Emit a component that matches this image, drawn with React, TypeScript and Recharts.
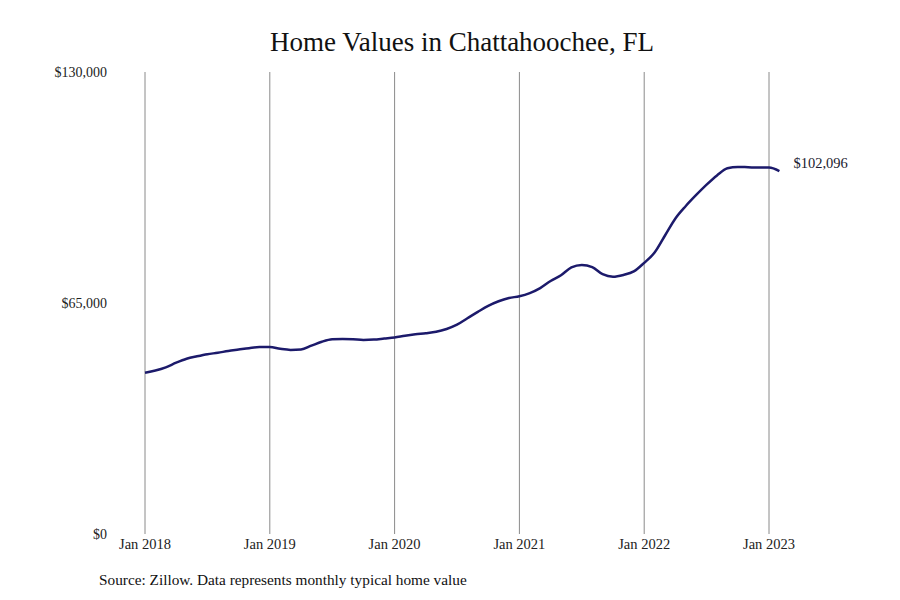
import React from "react";
import { LineChart, Line, XAxis, YAxis, ReferenceLine } from "recharts";

const months: string[] = [];
const years = [2018, 2019, 2020, 2021, 2022, 2023];
const monthNames = ["Jan", "Feb", "Mar", "Apr", "May", "Jun", "Jul", "Aug", "Sep", "Oct", "Nov", "Dec"];
years.forEach((y) => monthNames.forEach((m) => months.push(`${m} ${y}`)));

const homeValues = [
  45400, 46000, 46900, 48200, 49300, 50000, 50600, 51000, 51500, 51900, 52300, 52600,
  52600, 52100, 51800, 51900, 53000, 54100, 54800, 54900, 54800, 54600, 54700, 55000,
  55300, 55800, 56200, 56500, 56900, 57700, 58900, 60700, 62500, 64200, 65500, 66400,
  66900, 67800, 69200, 71200, 72800, 75000, 75700, 75100, 73100, 72400, 72900, 73900,
  76300, 79200, 84000, 88800, 92300, 95400, 98300, 100900, 102900, 103300, 103200, 103100,
  103100, 102096,
];

const xTicks = [0, 12, 24, 36, 48, 60];
const yTicks = [0, 65000, 130000];

const data = homeValues.map((v, i) => ({ idx: i, month: months[i], value: v }));

const FONT = "'Liberation Serif', serif";

const fmtMoney = (v: number) => "$" + v.toLocaleString("en-US");

const EndLabel = (props: any) => {
  const { x, y, index } = props;
  if (index !== homeValues.length - 1) return null;
  return (
    <text x={x + 14} y={y - 6} fontFamily={FONT} fontSize={14.5} fill="#1a1a2e" dominantBaseline="middle">
      {fmtMoney(homeValues[index])}
    </text>
  );
};

export default function App() {
  return (
    <div style={{ position: "absolute", left: 0, top: 0, width: 900, height: 600, background: "#fff" }}>
      <LineChart
        width={900}
        height={600}
        data={data}
        margin={{ top: 72, right: 120.6, bottom: 36, left: 0 }}
      >
        {xTicks.map((t) => (
          <ReferenceLine key={t} x={t} stroke="#8a8a8a" strokeWidth={1} ifOverflow="visible" />
        ))}
        <XAxis
          dataKey="idx"
          type="number"
          domain={[0, 61]}
          ticks={xTicks}
          tickFormatter={(i: number) => months[i]}
          axisLine={false}
          tickLine={false}
          tickSize={0}
          tickMargin={5}
          height={30}
          tick={{ fontFamily: FONT, fontSize: 14.5, fill: "#222" }}
          interval={0}
        />
        <YAxis
          type="number"
          domain={[0, 130000]}
          ticks={yTicks}
          tickFormatter={fmtMoney}
          axisLine={false}
          tickLine={false}
          tickSize={0}
          tickMargin={38}
          width={145}
          tick={{ fontFamily: FONT, fontSize: 14, fill: "#222" }}
          interval={0}
        />
        <Line
          type="monotone"
          dataKey="value"
          stroke="#1c1a6b"
          strokeWidth={2.5}
          dot={false}
          isAnimationActive={false}
          label={<EndLabel />}
        />
      </LineChart>
      <svg width={900} height={600} style={{ position: "absolute", left: 0, top: 0, pointerEvents: "none" }}>
        <text x={462} y={51} textAnchor="middle" fontFamily={FONT} fontSize={27} fill="#111">
          Home Values in Chattahoochee, FL
        </text>
        <text x={99} y={585} fontFamily={FONT} fontSize={15.3} fill="#111">
          Source: Zillow. Data represents monthly typical home value
        </text>
      </svg>
    </div>
  );
}
